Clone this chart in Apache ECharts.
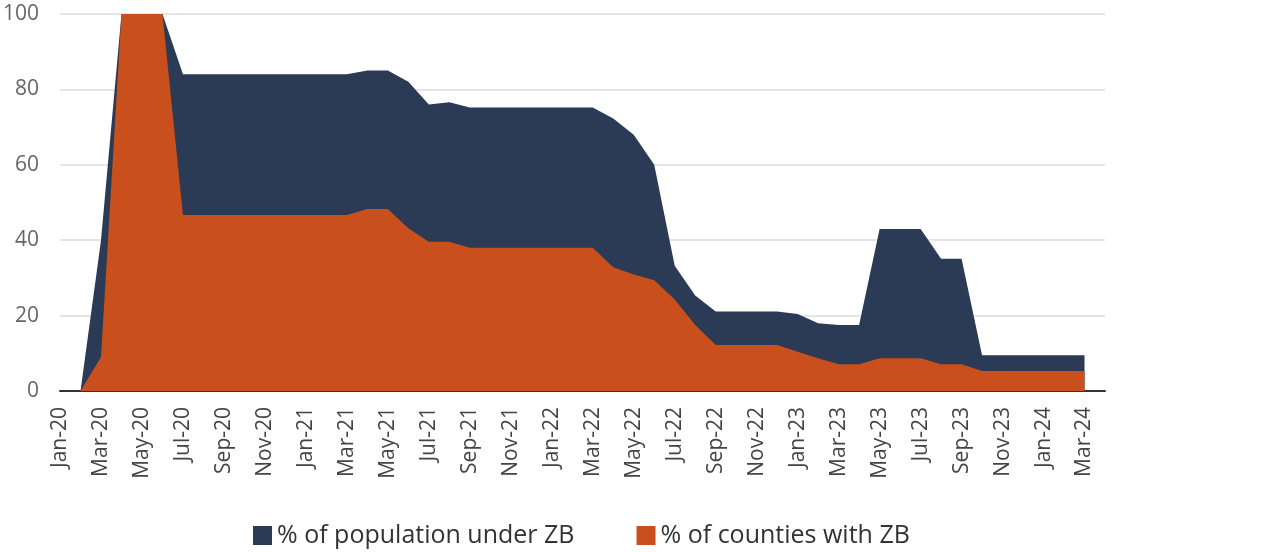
<!DOCTYPE html>
<html>
<head>
<meta charset="utf-8">
<script src="https://cdn.jsdelivr.net/npm/echarts@6/dist/echarts.min.js"></script>
<style>
  html, body { margin: 0; padding: 0; background: #fff; }
  #chart { width: 1280px; height: 552px; }
</style>
</head>
<body>
<div id="chart"></div>
<script>
// months Jan-20 .. Apr-24 (the last one has no data, it only pads the axis)
var months = [
  'Jan-20', 'Feb-20', 'Mar-20', 'Apr-20', 'May-20', 'Jun-20', 'Jul-20', 'Aug-20', 'Sep-20', 'Oct-20', 'Nov-20', 'Dec-20',
  'Jan-21', 'Feb-21', 'Mar-21', 'Apr-21', 'May-21', 'Jun-21', 'Jul-21', 'Aug-21', 'Sep-21', 'Oct-21', 'Nov-21', 'Dec-21',
  'Jan-22', 'Feb-22', 'Mar-22', 'Apr-22', 'May-22', 'Jun-22', 'Jul-22', 'Aug-22', 'Sep-22', 'Oct-22', 'Nov-22', 'Dec-22',
  'Jan-23', 'Feb-23', 'Mar-23', 'Apr-23', 'May-23', 'Jun-23', 'Jul-23', 'Aug-23', 'Sep-23', 'Oct-23', 'Nov-23', 'Dec-23',
  'Jan-24', 'Feb-24', 'Mar-24', 'Apr-24'
]

// % of population under ZB
var populationZB = [
  null, 0, 40, 100, 100, 100, 84, 84, 84, 84, 84, 84,
  84, 84, 84, 85, 85, 82, 76, 76.6, 75.2, 75.2, 75.2, 75.2,
  75.2, 75.2, 75.2, 72.3, 68, 60, 33.2, 25.3, 21.1, 21.1, 21.1, 21.1,
  20.4, 18, 17.5, 17.5, 43, 43, 43, 35.1, 35.1, 9.5, 9.5, 9.5,
  9.5, 9.5, 9.5, null
]

// % of counties with ZB
var countiesZB = [
  null, 0, 9, 100, 100, 100, 46.7, 46.7, 46.7, 46.7, 46.7, 46.7,
  46.7, 46.7, 46.7, 48.3, 48.3, 43.2, 39.6, 39.6, 38, 38, 38, 38,
  38, 38, 38, 32.8, 30.9, 29.4, 24.3, 17.5, 12.2, 12.2, 12.2, 12.2,
  10.4, 8.7, 7.1, 7.1, 8.7, 8.7, 8.7, 7.1, 7.1, 5.3, 5.3, 5.3,
  5.3, 5.3, 5.3, null
]

var yTicks = [0, 20, 40, 60, 80, 100]

var fontFamily = '"Open Sans", Lato, sans-serif'

var option = {
  animation: false,
  color: ['#2b3a55', '#c9501c'],
  grid: {
    left: 59,
    right: 175,
    top: 14,
    bottom: 161
  },
  legend: {
    left: 248,
    top: 518,
    itemWidth: 19,
    itemHeight: 19,
    itemGap: 62,
    icon: 'rect',
    textStyle: {
      fontFamily: fontFamily,
      fontSize: 25,
      color: '#333'
    },
    data: ['% of population under ZB', '% of counties with ZB']
  },
  xAxis: {
    type: 'category',
    data: months,
    boundaryGap: false,
    axisLine: { lineStyle: { color: '#333', width: 2 } },
    axisTick: { show: false },
    axisLabel: {
      interval: 1,
      rotate: 90,
      margin: 16,
      fontFamily: fontFamily,
      fontSize: 21,
      color: '#444'
    }
  },
  yAxis: {
    type: 'value',
    min: yTicks[0],
    max: yTicks[yTicks.length - 1],
    interval: 20,
    axisLine: { show: false },
    axisTick: { show: false },
    splitLine: { lineStyle: { color: '#dcdcdc', width: 1.5 } },
    axisLabel: {
      margin: 21,
      fontFamily: fontFamily,
      fontSize: 21,
      color: '#666'
    }
  },
  series: [
    {
      name: '% of population under ZB',
      type: 'line',
      data: populationZB,
      symbol: 'none',
      lineStyle: { width: 0 },
      areaStyle: { opacity: 1, color: '#2b3a55' }
    },
    {
      name: '% of counties with ZB',
      type: 'line',
      data: countiesZB,
      symbol: 'none',
      lineStyle: { width: 0 },
      areaStyle: { opacity: 1, color: '#c9501c' }
    }
  ]
}

var chartObj = echarts.init(document.getElementById('chart'))
chartObj.setOption(option)
</script>
</body>
</html>
